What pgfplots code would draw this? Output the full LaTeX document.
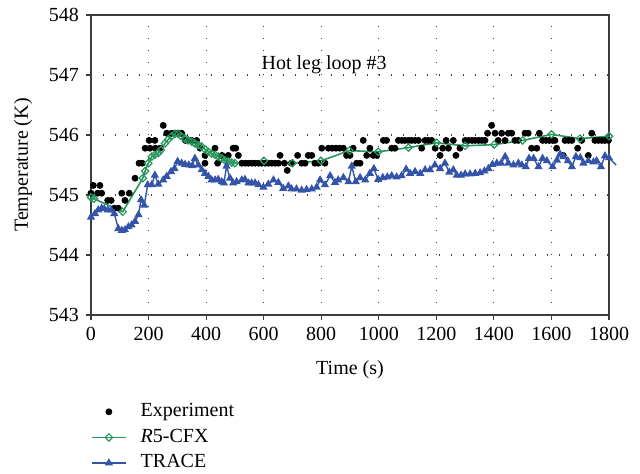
\documentclass[border=0pt]{standalone}
\usepackage{pgfplots}
\pgfplotsset{compat=1.18}
\usepackage{fontspec}
\setmainfont{Liberation Serif}
\definecolor{cfxgreen}{RGB}{38,150,92}
\definecolor{traceblue}{RGB}{52,84,170}
\definecolor{axgray}{RGB}{60,60,60}
\begin{document}
\fontsize{10pt}{12pt}\selectfont
\begin{tikzpicture}
\begin{axis}[
  scale only axis, width=259pt, height=150pt,
  xmin=0, xmax=1800, ymin=543, ymax=548,
  xtick={0,200,...,1800}, ytick={543,544,...,548},
  grid=major,
  grid style={black!75, line width=0.6pt, dash pattern=on 0.6pt off 5.4pt},
  axis line style={line width=0.7pt, axgray},
  tick align=outside, xtick pos=bottom, ytick pos=left,
  major tick length=2.5pt,
  tick style={line width=0.6pt, axgray},
  /pgf/number format/assume math mode=true,
  /pgf/number format/set thousands separator={},
  ticklabel style={font=\fontsize{10pt}{12pt}\selectfont},
  xlabel={Time (s)}, ylabel={Temperature (K)},
  label style={font=\fontsize{10pt}{12pt}\selectfont},
  xlabel style={at={(axis description cs:0.5,0)}, anchor=center, yshift=-27.5pt},
  ylabel style={at={(axis description cs:-0.1313,0.5)}, anchor=center},
  clip=false,
  legend cell align=left,
  legend style={draw=none, fill=none, inner sep=0pt, outer sep=0pt,
    at={(axis description cs:0,0)}, anchor=north west, yshift=-43pt,
    row sep=2pt, column sep=6pt,
    font=\fontsize{10pt}{12pt}\selectfont,
    nodes={inner sep=1pt, text height=6.8pt, text depth=2pt}},
]
\addplot[only marks, mark=*, mark size=1.5pt, black] coordinates {
(0,545.03) (8,545.16) (23,545.03) (31,545.16) (37,545.03) (58,544.91) (70,544.91)
(81,544.78) (95,544.78) (107,545.03) (118,544.91) (133,545.03) (153,545.28)
(167,545.53) (178,545.53) (188,545.78) (202,545.91) (205,545.78) (222,545.91)
(224,545.78) (240,545.78) (251,546.16) (263,546.03) (280,546.03) (291,546.03)
(303,546.03) (315,546.03) (328,545.91) (340,545.91) (350,545.91) (367,545.91)
(379,545.78) (396,545.66) (396,545.53) (431,545.78) (440,545.53) (455,545.66)
(477,545.66) (494,545.78) (503,545.78) (512,545.66) (524,545.53) (536,545.53)
(547,545.53) (559,545.53) (570,545.53) (582,545.53) (593,545.53) (605,545.53)
(616,545.53) (628,545.53) (640,545.53) (651,545.53) (657,545.66) (672,545.53)
(682,545.41) (696,545.53) (718,545.66) (732,545.53) (744,545.53) (755,545.66)
(767,545.66) (778,545.53) (790,545.53) (802,545.78) (813,545.53) (825,545.78)
(838,545.78) (851,545.78) (864,545.78) (877,545.78) (888,545.66) (900,545.66)
(911,545.78) (923,545.53) (935,545.53) (946,545.91) (958,545.66) (969,545.78)
(981,545.66) (993,545.66) (1016,545.91) (1027,545.91) (1045,545.78)
(1056,545.78) (1068,545.91) (1080,545.91) (1091,545.91) (1103,545.91)
(1114,545.91) (1126,545.91) (1138,545.91) (1149,545.78) (1161,545.91)
(1172,545.91) (1184,545.91) (1196,545.78) (1213,545.66) (1222,545.78)
(1234,545.91) (1242,545.78) (1259,545.91) (1268,545.66) (1282,545.78)
(1300,545.91) (1312,545.91) (1324,545.91) (1335,545.91) (1347,545.91)
(1358,545.91) (1369,545.91) (1378,546.03) (1392,546.16) (1404,546.03)
(1415,545.91) (1427,546.03) (1439,545.91) (1450,546.03) (1462,546.03)
(1473,545.91) (1485,545.91) (1508,546.03) (1519,546.03) (1531,545.78)
(1549,545.78) (1558,546.03) (1569,545.91) (1581,545.91) (1593,545.91)
(1604,545.91) (1612,545.91) (1618,545.78) (1641,545.66) (1647,545.91)
(1659,545.91) (1671,545.91) (1691,545.78) (1705,545.91) (1728,545.66)
(1740,546.03) (1751,545.91) (1763,545.91) (1775,545.91) (1786,545.91) (1798,545.91)
};
\addlegendentry{Experiment}
\addplot[cfxgreen, line width=0.8pt, mark=square, mark size=1.3pt,
  mark options={rotate=45, fill=white, line width=0.6pt}] coordinates {
(0,544.96) (10,544.94) (110,544.72) (180,545.28) (188,545.40) (199,545.53)
(211,545.64) (222,545.67) (234,545.70) (243,545.75) (257,545.86) (269,545.93)
(280,545.98) (292,546.02) (303,546.02) (313,545.98) (327,545.94) (338,545.91)
(350,545.89) (361,545.86) (373,545.83) (384,545.81) (396,545.76) (407,545.72)
(419,545.69) (431,545.67) (442,545.64) (454,545.61) (465,545.58) (477,545.56)
(489,545.54) (500,545.53) (601,545.57) (700,545.53) (799,545.57) (898,545.74)
(998,545.72) (1103,545.79) (1201,545.87) (1300,545.82) (1401,545.84)
(1500,545.91) (1600,546.01) (1699,545.94) (1800,545.98)
};
\addlegendentry{\textit{R}5-CFX}
\addplot[traceblue, line width=0.7pt, mark=triangle*, mark size=1.7pt,
  mark options={fill=traceblue}] coordinates {
(0,544.63) (14,544.69) (25,544.75) (37,544.78) (46,544.77) (58,544.75) (70,544.75)
(81,544.69) (95,544.44) (107,544.41) (118,544.42) (130,544.47) (141,544.50)
(153,544.56) (165,544.67) (174,544.92) (185,544.83) (197,545.17) (211,545.17)
(222,545.33) (234,545.18) (251,545.25) (263,545.31) (278,545.39) (290,545.44)
(301,545.56) (315,545.53) (327,545.51) (340,545.50) (352,545.49) (361,545.61)
(373,545.50) (385,545.42) (396,545.36) (408,545.31) (419,545.25) (431,545.25)
(442,545.26) (454,545.22) (462,545.20) (471,545.48) (483,545.28) (494,545.20)
(506,545.22) (524,545.25) (535,545.26) (547,545.20) (558,545.20) (570,545.20)
(582,545.17) (599,545.13) (616,545.18) (634,545.25) (651,545.21) (668,545.11)
(686,545.15) (697,545.10) (714,545.10) (732,545.08) (749,545.09) (767,545.10)
(784,545.13) (796,545.25) (813,545.17) (831,545.32) (848,545.21) (859,545.25)
(877,545.29) (895,545.22) (906,545.48) (920,545.22) (935,545.29) (953,545.25)
(969,545.36) (983,545.44) (998,545.26) (1014,545.29) (1030,545.30) (1045,545.32)
(1062,545.30) (1079,545.32) (1095,545.43) (1109,545.36) (1126,545.39)
(1144,545.36) (1161,545.42) (1178,545.42) (1195,545.50) (1213,545.44)
(1230,545.53) (1245,545.38) (1259,545.42) (1271,545.33) (1286,545.33)
(1300,545.35) (1317,545.35) (1335,545.36) (1352,545.37) (1367,545.40)
(1381,545.44) (1395,545.51) (1410,545.53) (1425,545.53) (1439,545.64)
(1450,545.53) (1468,545.50) (1485,545.53) (1497,545.50) (1511,545.47)
(1522,545.61) (1538,545.61) (1555,545.47) (1569,545.61) (1584,545.57)
(1604,545.47) (1619,545.58) (1630,545.68) (1642,545.64) (1657,545.57)
(1671,545.47) (1685,545.64) (1700,545.62) (1711,545.53) (1728,545.57)
(1746,545.55) (1757,545.57) (1772,545.47) (1786,545.65) (1800,545.62)
};
\addlegendentry{TRACE}
\addplot[traceblue, line width=0.7pt, no marks, forget plot] coordinates {
(1800,545.62) (1825,545.50)
};
\node[anchor=center, font=\fontsize{10pt}{12pt}\selectfont] at (axis cs:810,547.17) {Hot leg loop \#3};
\end{axis}
\pgfresetboundingbox
\path (current axis.south west) ++(-45.5pt,-79pt) rectangle ++(320pt,236.5pt);
\end{tikzpicture}
\end{document}
